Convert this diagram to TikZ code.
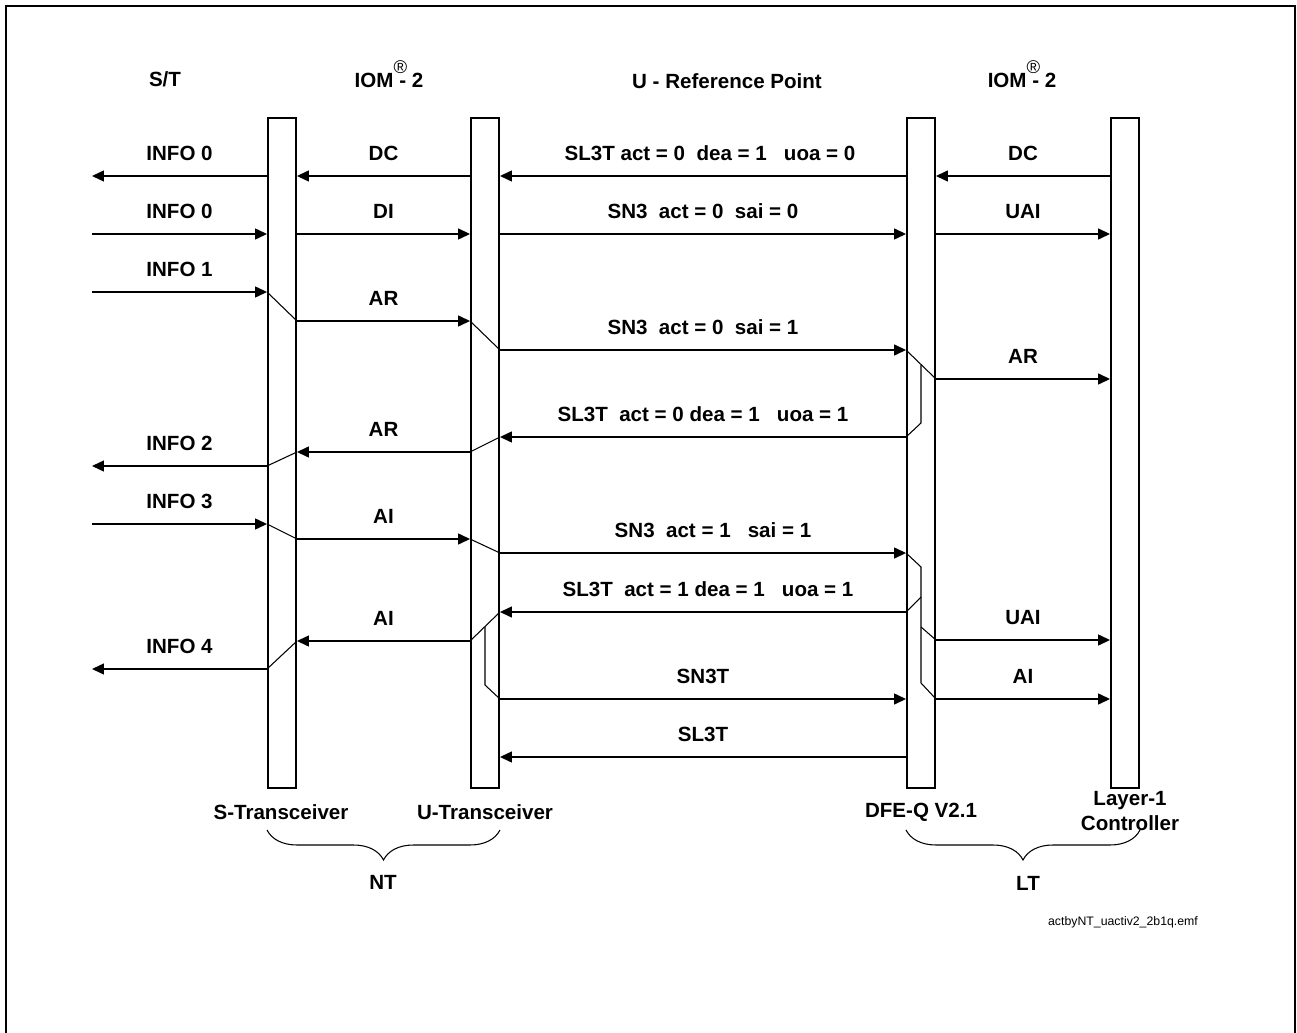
\documentclass[tikz,border=0pt]{standalone}
\usepackage{fontspec}
\setmainfont{Liberation Sans}
\usetikzlibrary{arrows.meta, decorations.pathreplacing}

\newcommand{\iomtwo}{IOM\rlap{\raisebox{7.5pt}[0pt][0pt]{\mdseries\fontsize{10.5}{12}\selectfont ®}}~- 2}

\begin{document}
\begin{tikzpicture}[
    x=0.02cm, y=-0.02cm,
    font=\bfseries\fontsize{11.7}{14}\selectfont,
    chip/.style={draw, rectangle, line width=1.1pt, minimum width=0.56cm, minimum height=13.4cm, inner sep=0pt},
    msg/.style={line width=0.8pt, -{Triangle[length=0.24cm, width=0.22cm]}},
    msg text/.style={above=0.3cm, inner sep=0pt},
    kink/.style={line width=0.6pt},
    group/.style={line width=0.6pt, decorate, decoration={brace, mirror, amplitude=0.6cm}},
    file text/.style={font=\mdseries\fontsize{7}{8.4}\selectfont}
]
\useasboundingbox (0,0) rectangle (1297,1033);

% Frame
\draw[line width=1.4pt] (6,1033) -- (6,6) -- (1295,6) -- (1295,1033);

% Chips
\node[chip] (sxcv) at (282,453) {};
\node[chip] (uxcv) at (485,453) {};
\node[chip] (dfe) at (921,453) {};
\node[chip] (lctl) at (1125,453) {};
\coordinate (st) at (92,0);

% Headings
\node (hst) at (165,79) {S/T};
\node (hiom1) at (389,80) {\iomtwo};
\node (href) at (727,81) {U - Reference Point};
\node (hiom2) at (1022,80) {\iomtwo};

% Chip names
\node (nsx) at (281,812) {S-Transceiver};
\node (nux) at (485,812) {U-Transceiver};
\node (ndfe) at (921,812) {DFE-Q V2.1};
\node[align=center] (nlc) at (1130,811) {Layer-1\\Controller};

% Groups
\draw[group] (sxcv.west |- 0,830) -- (uxcv.east |- 0,830);
\draw[group] (dfe.west |- 0,830) -- (lctl.east |- 0,830);
\node (nt) at (383,882) {NT};
\node (lt) at (1028,883) {LT};
\node[file text] (fname) at (1123,922) {actbyNT\_uactiv2\_2b1q.emf};

% Deactivated state
\draw[msg] (sxcv.west |- 0,176) -- node[msg text] {INFO 0} (st |- 0,176);
\draw[msg] (uxcv.west |- 0,176) -- node[msg text] {DC} (sxcv.east |- 0,176);
\draw[msg] (dfe.west |- 0,176) -- node[msg text, xshift=0.14cm] {SL3T act = 0~~dea = 1~~~uoa = 0} (uxcv.east |- 0,176);
\draw[msg] (lctl.west |- 0,176) -- node[msg text] {DC} (dfe.east |- 0,176);

\draw[msg] (st |- 0,234) -- node[msg text] {INFO 0} (sxcv.west |- 0,234);
\draw[msg] (sxcv.east |- 0,234) -- node[msg text] {DI} (uxcv.west |- 0,234);
\draw[msg] (uxcv.east |- 0,234) -- node[msg text] {SN3~~act = 0~~sai = 0} (dfe.west |- 0,234);
\draw[msg] (dfe.east |- 0,234) -- node[msg text] {UAI} (lctl.west |- 0,234);

% Activation request
\draw[msg] (st |- 0,292) -- node[msg text] {INFO 1} (sxcv.west |- 0,292);
\draw[msg] (sxcv.east |- 0,321) -- node[msg text] {AR} (uxcv.west |- 0,321);
\draw[msg] (uxcv.east |- 0,350) -- node[msg text] {SN3~~act = 0~~sai = 1} (dfe.west |- 0,350);
\draw[msg] (dfe.east |- 0,379) -- node[msg text] {AR} (lctl.west |- 0,379);

\draw[msg] (dfe.west |- 0,437) -- node[msg text] {SL3T~~act = 0 dea = 1~~~uoa = 1} (uxcv.east |- 0,437);
\draw[msg] (uxcv.west |- 0,452) -- node[msg text] {AR} (sxcv.east |- 0,452);
\draw[msg] (sxcv.west |- 0,466) -- node[msg text] {INFO 2} (st |- 0,466);

% Activation indication
\draw[msg] (st |- 0,524) -- node[msg text] {INFO 3} (sxcv.west |- 0,524);
\draw[msg] (sxcv.east |- 0,539) -- node[msg text] {AI} (uxcv.west |- 0,539);
\draw[msg] (uxcv.east |- 0,553) -- node[msg text, xshift=0.2cm] {SN3~~act = 1~~~sai = 1} (dfe.west |- 0,553);

\draw[msg] (dfe.west |- 0,612) -- node[msg text, xshift=0.1cm] {SL3T~~act = 1 dea = 1~~~uoa = 1} (uxcv.east |- 0,612);
\draw[msg] (uxcv.west |- 0,641) -- node[msg text] {AI} (sxcv.east |- 0,641);
\draw[msg] (sxcv.west |- 0,669) -- node[msg text] {INFO 4} (st |- 0,669);
\draw[msg] (dfe.east |- 0,640) -- node[msg text] {UAI} (lctl.west |- 0,640);

\draw[msg] (uxcv.east |- 0,699) -- node[msg text] {SN3T} (dfe.west |- 0,699);
\draw[msg] (dfe.east |- 0,699) -- node[msg text] {AI} (lctl.west |- 0,699);
\draw[msg] (dfe.west |- 0,757) -- node[msg text] {SL3T} (uxcv.east |- 0,757);

% Paths through the S-Transceiver
\draw[kink] (sxcv.west |- 0,292) -- (sxcv.east |- 0,321);
\draw[kink] (sxcv.east |- 0,452) -- (sxcv.west |- 0,466);
\draw[kink] (sxcv.west |- 0,524) -- (sxcv.east |- 0,539);
\draw[kink] (sxcv.east |- 0,641) -- (sxcv.west |- 0,669);

% Paths through the U-Transceiver
\draw[kink] (uxcv.west |- 0,321) -- (uxcv.east |- 0,350);
\draw[kink] (uxcv.east |- 0,437) -- (uxcv.west |- 0,452);
\draw[kink] (uxcv.west |- 0,539) -- (uxcv.east |- 0,553);
\draw[kink] (uxcv.east |- 0,612) -- (uxcv.west |- 0,641);
\draw[kink] (uxcv |- 0,627) -- (uxcv |- 0,685) -- (uxcv.east |- 0,699);

% Paths through the DFE-Q
\draw[kink] (dfe.west |- 0,350) -- (dfe.east |- 0,379);
\draw[kink] (dfe |- 0,365) -- (dfe |- 0,423) -- (dfe.west |- 0,437);
\draw[kink] (dfe.west |- 0,553) -- (dfe |- 0,567) -- (dfe |- 0,683) -- (dfe.east |- 0,699);
\draw[kink] (dfe |- 0,627) -- (dfe.east |- 0,640);
\draw[kink] (dfe.west |- 0,612) -- (dfe |- 0,597);

\end{tikzpicture}
\end{document}
